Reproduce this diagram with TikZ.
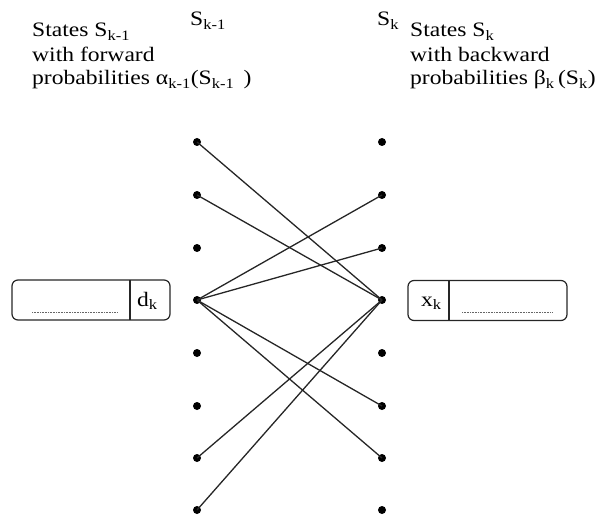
\documentclass[tikz,border=0pt]{standalone}
\usepackage{fontspec}
\setmainfont{Liberation Serif}[FakeStretch=1.15]
\newcommand{\sbs}[1]{\textsubscript{#1}}
\begin{document}
\begin{tikzpicture}[x=1pt,y=-1pt,
  dot/.style={circle,fill=black,inner sep=0pt,minimum size=8pt},
  edge/.style={line width=1.3pt,draw=black!85},
  lbl/.style={anchor=base west,inner sep=0pt,font=\fontsize{20.5}{24}\selectfont},
  boxframe/.style={draw=black!85,line width=1.2pt,rounded corners=6pt,inner sep=0pt},
  dotline/.style={draw=black!60,line width=1pt,dash pattern=on 0.7pt off 0.9pt},
  divider/.style={draw=black!85,line width=1.2pt}]
\useasboundingbox (0,0) rectangle (601,518);
% text labels
\node[lbl] (t1) at (32,37) {States S\sbs{k-1}};
\node[lbl] (t2) at (32,62) {with forward};
\node[lbl] (t3) at (32,85) {probabilities α\sbs{k-1}(S\sbs{k-1} \,)};
\node[lbl] (sl) at (190,26) {S\sbs{k-1}};
\node[lbl] (sr) at (377,26) {S\sbs{k}};
\node[lbl] (u1) at (410,37) {States S\sbs{k}};
\node[lbl] (u2) at (410,62) {with backward};
\node[lbl] (u3) at (410,85) {probabilities β\sbs{k}\,(S\sbs{k})};
% dots
\foreach \i/\y in {1/142,2/195,3/248,4/300,5/353,6/406,7/458,8/510}{
  \node[dot] (L\i) at (197,\y) {};
  \node[dot] (R\i) at (382,\y) {};
}
% edges
\draw[edge] (L1.center) -- (R4.center);
\draw[edge] (L2.center) -- (R4.center);
\draw[edge] (L4.center) -- (R2.center);
\draw[edge] (L4.center) -- (R3.center);
\draw[edge] (L4.center) -- (R6.center);
\draw[edge] (L4.center) -- (R7.center);
\draw[edge] (R4.center) -- (L7.center);
\draw[edge] (R4.center) -- (L8.center);
% left box
\node[boxframe,minimum width=158pt,minimum height=40pt] (lbox) at (91,300) {};
\coordinate (ldt) at (130,280);
\coordinate (ldb) at (130,320);
\draw[divider] (ldt) -- (ldb);
\coordinate (lda) at (32,312);
\coordinate (ldz) at (117,312);
\draw[dotline] (lda) -- (ldz);
\node[lbl] (dk) at (137,306) {d\sbs{k}};
% right box
\node[boxframe,minimum width=159pt,minimum height=40pt] (rbox) at (487.5,300.5) {};
\coordinate (rdt) at (449,280.5);
\coordinate (rdb) at (449,320.5);
\draw[divider] (rdt) -- (rdb);
\coordinate (rda) at (462,312);
\coordinate (rdz) at (553,312);
\draw[dotline] (rda) -- (rdz);
\node[lbl] (xk) at (421,306) {x\sbs{k}};
\end{tikzpicture}
\end{document}
